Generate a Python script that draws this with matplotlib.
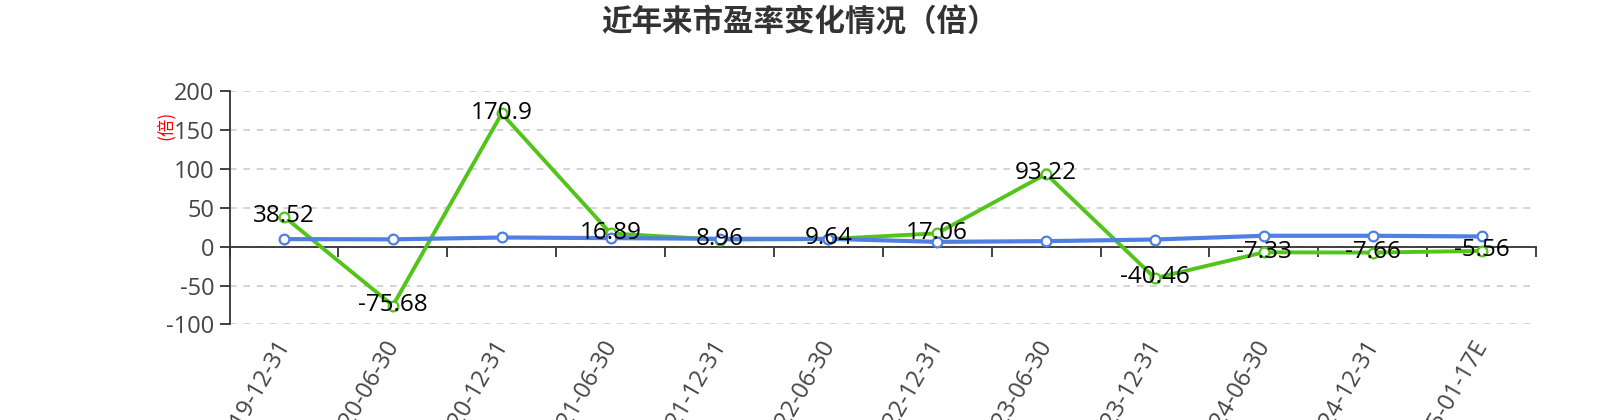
"""
Recreate the PE ratio trend chart (近年来市盈率变化情况)
"""

import matplotlib
matplotlib.use('Agg')
import matplotlib.pyplot as plt
import matplotlib.transforms as mtransforms
import numpy as np

dates = ['2019-12-31', '2020-06-30', '2020-12-31', '2021-06-30',
         '2021-12-31', '2022-06-30', '2022-12-31', '2023-06-30',
         '2023-12-31', '2024-06-30', '2024-12-31', '2025-01-17E']
# green series (labelled)
pe_company = [38.52, -75.68, 170.9, 16.89, 8.96, 9.64,
              17.06, 93.22, -40.46, -7.33, -7.66, -5.56]
# blue series (no labels)
pe_industry = [9.6, 9.3, 11.7, 10.9, 10.0, 10.0,
               6.1, 7.0, 9.1, 13.9, 13.9, 13.0]
yticks = [-100, -50, 0, 50, 100, 150, 200]

title = '近年来市盈率变化情况（倍）'
y_name = '(倍)'

plt.rcParams['font.family'] = ['Open Sans', 'Noto Sans CJK SC', 'DejaVu Sans']
plt.rcParams['axes.unicode_minus'] = False

c_green = '#52c41a'
c_blue = '#4f7fe0'
c_axis = '#333333'
c_text = '#444444'


def main():
    fig = plt.figure(figsize=(16, 4.2), dpi=100)
    ax = fig.add_axes([0.1435, 0.2274, 0.8165, 0.5564])
    x = np.arange(len(dates))

    ax.plot(x, pe_company, c=c_green, lw=2.8, marker='o', ms=7,
            mfc='white', mec=c_green, mew=1.6, zorder=3)
    ax.plot(x, pe_industry, c=c_blue, lw=3.0, marker='o', ms=7,
            mfc='white', mec=c_blue, mew=1.6, zorder=4)

    for i, v in enumerate(pe_company):
        ax.annotate(f"{v:g}", (x[i], v), xytext=(0, 0.5),
                    textcoords='offset points', ha='center', va='center',
                    fontsize=17.5, color='black', zorder=6)

    ax.set_xlim(-0.5, len(dates) - 0.5)
    ax.set_ylim(yticks[0], yticks[-1])
    ax.set_yticks(yticks)
    ax.tick_params(axis='y', length=7, width=1.3, color=c_axis, pad=4,
                   labelsize=17, labelcolor=c_text)
    ax.yaxis.grid(True, ls=(0, (4, 4)), lw=1.2, color='#cccccc')
    ax.set_axisbelow(True)

    # x axis line sits on zero, ticks between categories
    ax.spines['bottom'].set_position(('data', 0))
    ax.set_xticks(np.arange(len(dates) + 1) - 0.5)
    ax.set_xticklabels([])
    ax.tick_params(axis='x', length=7, width=1.3, color=c_axis)
    for s in ['top', 'right']:
        ax.spines[s].set_visible(False)
    for s in ['left', 'bottom']:
        ax.spines[s].set_color(c_axis)
        ax.spines[s].set_linewidth(1.3)

    # category labels stay at the bottom of the grid
    ax2 = ax.twiny()
    ax2.set_xlim(ax.get_xlim())
    ax2.xaxis.set_ticks_position('bottom')
    for s in ax2.spines.values():
        s.set_visible(False)
    ax2.set_xticks(x)
    ax2.set_xticklabels(dates, rotation=60, ha='right', va='top',
                        rotation_mode='anchor', fontsize=17, color=c_text)
    ax2.tick_params(axis='x', length=0, pad=8)
    shift = mtransforms.ScaledTranslation(-9 / 100, 0, fig.dpi_scale_trans)
    for lbl in ax2.get_xticklabels():
        lbl.set_transform(lbl.get_transform() + shift)

    ax.text(-0.049, 0.854, y_name, transform=ax.transAxes, rotation=90,
            ha='center', va='center', color='red', fontsize=12.5,
            family=['Noto Sans CJK SC', 'DejaVu Sans'])

    fig.text(0.5, 0.947, title, ha='center', va='center', fontsize=22,
             fontweight='bold', color='#333333',
             family=['Noto Sans CJK SC', 'DejaVu Sans'])

    plt.savefig('out.png', dpi=100)


if __name__ == '__main__':
    main()
